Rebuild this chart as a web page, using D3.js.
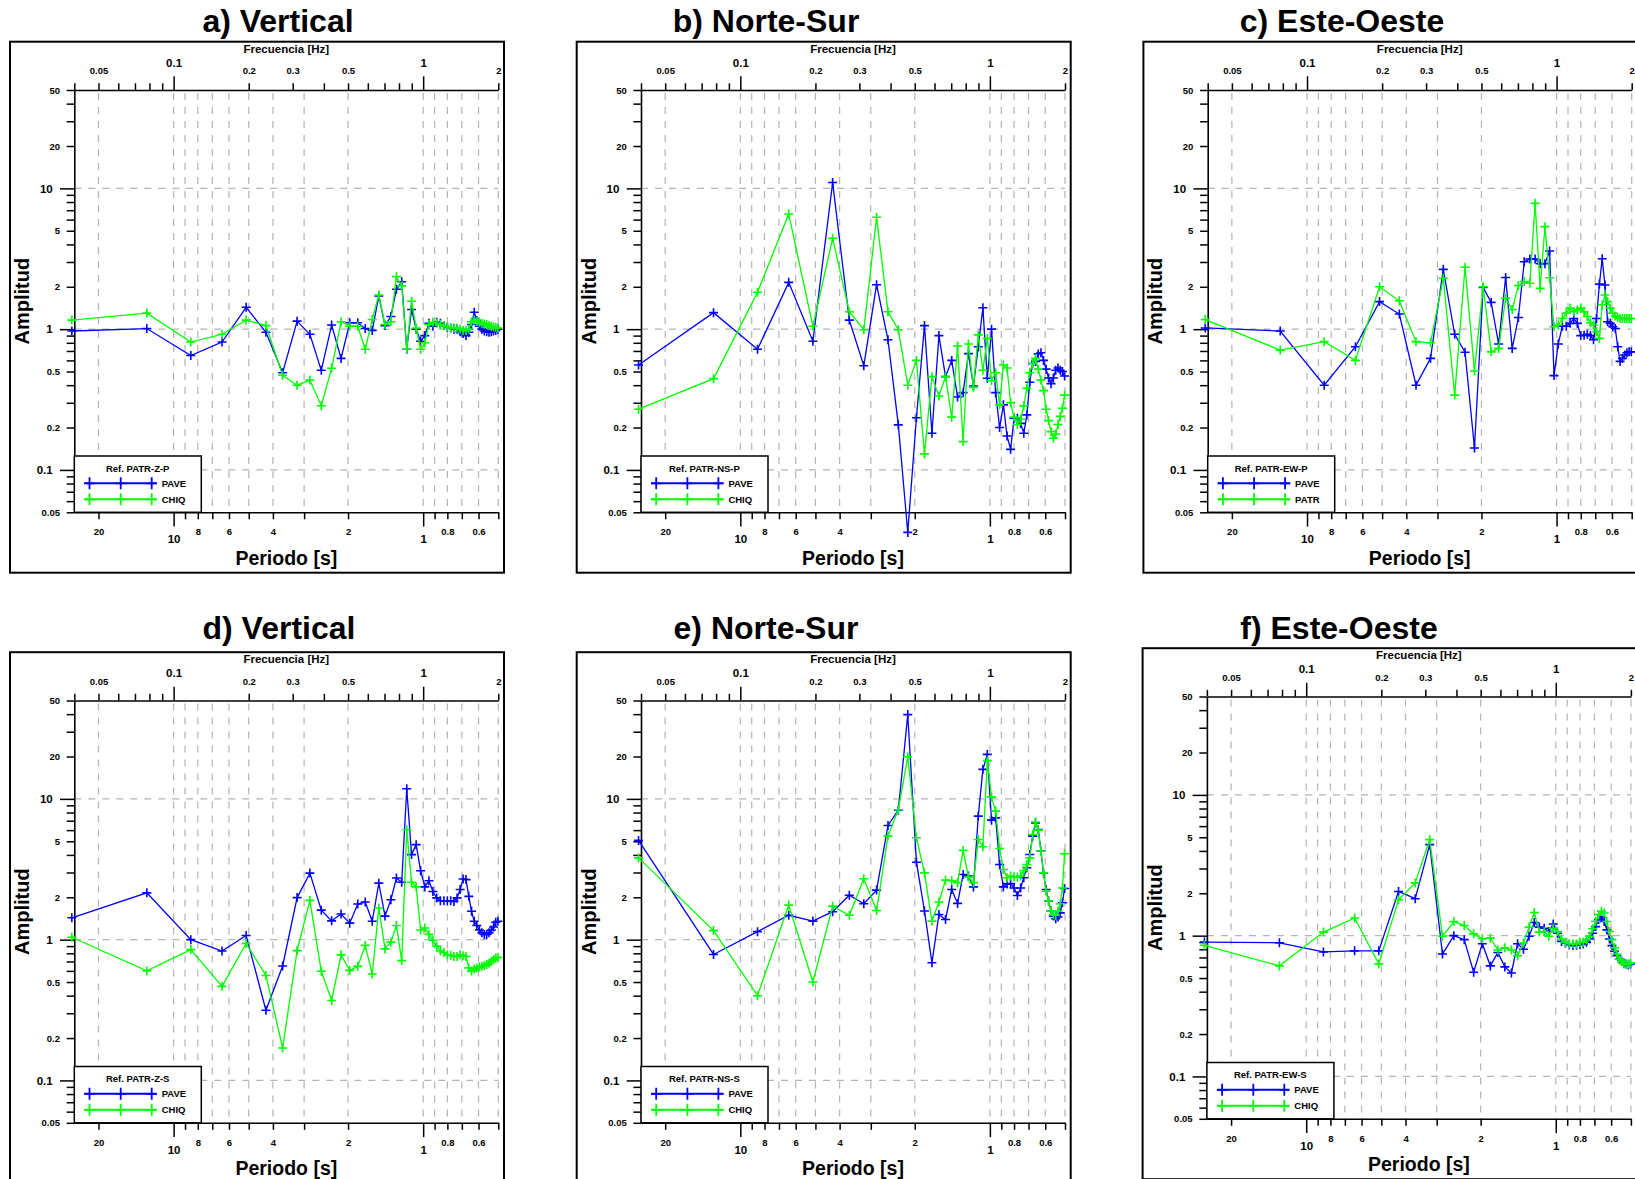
<!DOCTYPE html>
<html><head><meta charset="utf-8">
<script src="https://cdn.jsdelivr.net/npm/d3@7"></script>
<style>
body{margin:0;background:#fff;overflow:hidden}
svg{display:block}
text{font-family:"Liberation Sans",Arial,sans-serif;font-weight:bold;fill:#000}
</style>
</head><body>
<svg id="chart" width="1635" height="1179"></svg>
<script>
// ---------- data ----------
const freqs = [0.0391,0.0781,0.1172,0.1563,0.1953,0.2344,0.2734,0.3125,0.3516,0.3906,
  0.4297,0.4688,0.5078,0.5469,0.5859,0.625,0.6641,0.7031,0.7422,0.7813,
  0.8203,0.8594,0.8984,0.9375,0.9766,1.0156,1.0547,1.0938,1.1328,1.1719,
  1.2109,1.25,1.2891,1.3281,1.3672,1.4063,1.4453,1.4844,1.5234,1.5625,
  1.6016,1.6406,1.6797,1.7188,1.7578,1.7969,1.8359,1.875,1.9141,1.9531,1.9922];

const aPAVE = [0.97,1.01,0.65,0.81,1.43,0.95,0.49,1.14,0.92,0.51,1.07,0.62,1.11,1.11,1.01,0.98,1.72,1.06,1.23,1.92,
  2.17,0.72,1.38,1.00,0.82,0.90,1.10,1.05,1.12,1.10,1.06,1.03,1.02,1.00,1.00,0.96,0.93,0.90,0.95,1.08,
  1.32,1.15,1.05,1.00,0.97,0.96,0.95,0.96,0.97,0.98,1.00];
const aCHIQ = [1.16,1.30,0.81,0.92,1.16,1.06,0.47,0.40,0.435,0.286,0.527,1.13,1.05,1.05,0.72,1.17,1.75,1.08,1.13,2.36,
  2.03,0.72,1.58,1.02,0.72,0.80,1.08,1.12,1.10,1.08,1.06,1.04,1.02,1.02,1.02,1.00,0.98,0.98,1.00,1.13,
  1.16,1.14,1.12,1.10,1.09,1.08,1.06,1.05,1.04,1.03,1.02];
const bPAVE = [0.557,1.31,0.72,2.15,0.82,11.0,1.16,0.55,2.07,0.84,0.209,0.036,0.235,1.06,0.182,0.90,0.46,0.60,0.33,0.354,
  0.67,0.395,0.75,1.42,0.448,1.0,0.354,0.20,0.29,0.174,0.14,0.233,0.233,0.214,0.182,0.246,0.42,0.57,0.59,0.667,
  0.68,0.60,0.52,0.45,0.41,0.45,0.51,0.53,0.51,0.50,0.465];
const bCHIQ = [0.27,0.445,1.83,6.58,1.05,4.42,1.33,0.99,6.23,1.33,0.99,0.40,0.60,0.13,0.46,0.335,0.46,0.237,0.76,0.159,
  0.785,0.386,0.91,0.51,0.86,0.43,0.49,0.29,0.557,0.53,0.30,0.237,0.21,0.23,0.285,0.38,0.49,0.57,0.62,0.52,
  0.436,0.366,0.27,0.224,0.187,0.168,0.18,0.21,0.24,0.274,0.34];
const cPAVE = [1.02,0.97,0.40,0.75,1.57,1.28,0.40,0.62,2.66,0.92,0.685,0.143,1.98,1.55,0.785,2.33,0.73,1.21,3.01,3.15,
  3.15,2.92,2.92,3.59,0.468,0.785,1.05,1.05,1.10,1.19,1.10,0.90,0.905,0.92,0.90,0.84,1.19,2.09,3.16,2.06,
  1.13,1.10,1.04,1.01,0.75,0.59,0.62,0.655,0.68,0.69,0.69];
const cPATR = [1.17,0.71,0.815,0.60,2.0,1.59,0.815,0.80,2.30,0.34,2.75,0.505,2.0,0.69,0.73,1.66,1.38,2.04,2.18,2.12,
  7.83,1.95,5.35,2.32,1.04,1.07,1.19,1.30,1.41,1.33,1.37,1.41,1.33,1.23,1.11,1.07,0.96,0.86,1.49,1.75,
  1.57,1.41,1.30,1.24,1.21,1.19,1.19,1.19,1.19,1.19,1.19];
const dPAVE = [1.43,2.15,1.0,0.83,1.07,0.315,0.65,1.99,2.97,1.62,1.36,1.52,1.31,1.79,1.85,1.35,2.52,1.47,1.92,2.74,
  2.56,11.8,4.02,4.73,3.09,2.37,2.62,2.20,1.98,1.89,1.89,1.89,1.89,1.87,1.98,2.27,2.70,2.67,2.03,1.59,
  1.35,1.26,1.17,1.12,1.09,1.09,1.12,1.17,1.23,1.33,1.35];
const dCHIQ = [1.04,0.60,0.85,0.466,0.94,0.557,0.17,0.836,1.90,0.596,0.37,0.78,0.605,0.646,0.91,0.57,1.68,0.86,0.96,1.26,
  0.71,6.04,2.56,2.37,1.17,1.21,1.09,0.99,0.90,0.83,0.81,0.78,0.775,0.76,0.76,0.78,0.77,0.76,0.63,0.60,
  0.62,0.63,0.64,0.646,0.654,0.665,0.68,0.70,0.72,0.74,0.75];
const ePAVE = [5.07,0.785,1.14,1.49,1.355,1.58,2.07,1.80,2.25,6.47,8.32,39.7,3.55,1.60,0.685,1.51,1.39,2.27,1.81,2.90,
  2.83,2.37,7.54,16.2,20.7,7.06,7.33,3.42,2.37,2.49,2.5,2.33,2.06,2.33,2.75,3.24,4.03,5.44,6.76,6.06,
  4.26,2.98,2.27,1.88,1.60,1.47,1.41,1.45,1.55,1.83,2.31];
const eCHIQ = [3.81,1.16,0.40,1.76,0.50,1.73,1.49,2.71,1.61,5.44,8.38,19.9,5.29,2.98,1.355,1.85,2.65,2.62,2.54,4.32,
  2.79,2.54,5.15,4.57,18.7,10.3,8.19,4.44,3.15,2.75,2.83,2.79,2.79,2.83,3.10,3.42,3.81,5.58,6.86,6.0,
  4.26,2.98,2.21,1.88,1.6,1.51,1.49,1.6,1.8,2.33,4.08];
const fPAVE = [0.90,0.89,0.766,0.78,0.78,2.06,1.83,4.43,0.74,1.0,0.937,0.55,0.877,0.61,0.76,0.60,0.543,0.877,0.80,0.99,
  1.24,1.15,1.13,1.07,1.21,1.04,0.91,0.887,0.863,0.85,0.854,0.863,0.872,0.897,0.947,1.04,1.16,1.30,1.36,1.26,
  1.10,0.947,0.85,0.774,0.72,0.68,0.657,0.64,0.63,0.62,0.63];
const fCHIQ = [0.854,0.61,1.06,1.335,0.63,1.80,2.37,4.81,0.99,1.26,1.18,1.03,0.95,0.96,0.79,0.82,0.79,0.72,0.887,1.15,
  1.46,1.06,1.07,0.99,1.13,1.07,0.947,0.897,0.877,0.877,0.872,0.897,0.897,0.937,0.99,1.12,1.26,1.41,1.49,1.45,
  1.26,1.07,0.937,0.82,0.74,0.68,0.657,0.63,0.63,0.63,0.64];

const titles = ["a) Vertical","b) Norte-Sur","c) Este-Oeste","d) Vertical","e) Norte-Sur","f) Este-Oeste"];
const legendTitles = ["Ref. PATR-Z-P","Ref. PATR-NS-P","Ref. PATR-EW-P","Ref. PATR-Z-S","Ref. PATR-NS-S","Ref. PATR-EW-S"];
const seriesNames = [["PAVE","CHIQ"],["PAVE","CHIQ"],["PAVE","PATR"],["PAVE","CHIQ"],["PAVE","CHIQ"],["PAVE","CHIQ"]];
const seriesValues = [[aPAVE,aCHIQ],[bPAVE,bCHIQ],[cPAVE,cPATR],[dPAVE,dCHIQ],[ePAVE,eCHIQ],[fPAVE,fCHIQ]];

const freqDomain = [0.04, 2];
const periodDomain = [25, 0.5];
const ampDomain = [0.05, 50];
const topTicks = [0.04,0.05,0.06,0.07,0.08,0.09,0.2,0.3,0.4,0.5,0.6,0.7,0.8,0.9,2];
const topLabelsMinor = [0.05,0.2,0.3,0.5,2];
const topLabelsMajor = [0.1,1];
const periodTicks = [20,9,8,7,6,5,4,3,2,0.9,0.8,0.7,0.6,0.5];
const periodLabelsMinor = [20,8,6,4,2,0.8,0.6];
const periodLabelsMajor = [10,1];
const gridPeriods = [20,10,9,8,7,6,5,4,3,2,1,0.9,0.8,0.7,0.6,0.5];
const ampTicksMinor = [0.05,0.06,0.07,0.08,0.09,0.2,0.3,0.4,0.5,0.6,0.7,0.8,0.9,2,3,4,5,6,7,8,9,20,30,40,50];
const ampLabelsMinor = [0.05,0.2,0.5,2,5,20,50];
const ampTicksMajor = [0.1,1,10];

// ---------- layout ----------
const layout = [
  {ox:10,    oy:41.7,  tx:278,  ty:32.3},
  {ox:576.7, oy:41.7,  tx:766,  ty:32.3},
  {ox:1143.4,oy:41.7,  tx:1342, ty:32.3},
  {ox:10,    oy:652.2, tx:279,  ty:638.5},
  {ox:576.7, oy:652.2, tx:766,  ty:638.5},
  {ox:1142.6,oy:648.2, tx:1339, ty:638.5}
];
const colors = ["#0000ff","#00ff00"];
const W = 494, H = 531, PL = 64.3, PR = 488.3, PT = 48.3, PB = 470.6;

const svg = d3.select("#chart");

function styleAxis(sel, fs, keepDomain){
  sel.attr("font-family", null).attr("font-size", fs);
  sel.selectAll("line").attr("stroke","#000").attr("stroke-width",1.5);
  sel.selectAll("text").attr("fill","#000");
  if (keepDomain) sel.select(".domain").attr("stroke","#000").attr("stroke-width",1.6);
  else sel.select(".domain").remove();
}

layout.forEach((p, i) => {
  svg.append("text").attr("x", p.tx).attr("y", p.ty)
    .attr("text-anchor","middle").attr("font-size", 32).text(titles[i]);

  const g = svg.append("g").attr("transform", `translate(${p.ox},${p.oy})`);
  const x = d3.scaleLog().domain(freqDomain).range([PL, PR]);
  const xp = d3.scaleLog().domain(periodDomain).range([PL, PR]);
  const y = d3.scaleLog().domain(ampDomain).range([PB, PT]);

  g.append("rect").attr("x",0).attr("y",0).attr("width",W).attr("height",H)
    .attr("fill","#fff").attr("stroke","#000").attr("stroke-width",2);

  // grid
  const grid = g.append("g").attr("stroke","#b4b4b4").attr("stroke-width",1.2).attr("stroke-dasharray","7,7");
  grid.selectAll("line.v").data(gridPeriods).join("line").attr("class","v")
    .attr("x1", d => xp(d)).attr("x2", d => xp(d)).attr("y1", PT + 3).attr("y2", PB);
  grid.selectAll("line.h").data(ampTicksMajor).join("line").attr("class","h")
    .attr("x1", PL).attr("x2", PR).attr("y1", d => y(d)).attr("y2", d => y(d));

  // top frequency axis
  g.append("g").attr("transform", `translate(0,${PT})`)
    .call(d3.axisTop(x).tickValues(topTicks).tickSize(6.7).tickSizeOuter(0).tickPadding(9.3)
      .tickFormat(d => topLabelsMinor.includes(d) ? String(d) : ""))
    .call(s => styleAxis(s, 9.5, true));
  g.append("g").attr("transform", `translate(0,${PT})`)
    .call(d3.axisTop(x).tickValues(topLabelsMajor).tickSize(13.7).tickSizeOuter(0).tickPadding(9.6).tickFormat(String))
    .call(s => styleAxis(s, 11.5, false));

  // bottom period axis
  g.append("g").attr("transform", `translate(0,${PB})`)
    .call(d3.axisBottom(xp).tickValues(periodTicks).tickSize(7).tickSizeOuter(0).tickPadding(9)
      .tickFormat(d => periodLabelsMinor.includes(d) ? String(d) : ""))
    .call(s => styleAxis(s, 9.5, true));
  g.append("g").attr("transform", `translate(0,${PB})`)
    .call(d3.axisBottom(xp).tickValues(periodLabelsMajor).tickSize(14.3).tickSizeOuter(0).tickPadding(8.5).tickFormat(String))
    .call(s => styleAxis(s, 11.5, false));

  // left amplitude axis
  g.append("g").attr("transform", `translate(${PL},0)`)
    .call(d3.axisLeft(y).tickValues(ampTicksMinor).tickSize(7.6).tickSizeOuter(0).tickPadding(6.7)
      .tickFormat(d => ampLabelsMinor.includes(d) ? String(d) : ""))
    .call(s => styleAxis(s, 9.5, true));
  g.append("g").attr("transform", `translate(${PL},0)`)
    .call(d3.axisLeft(y).tickValues(ampTicksMajor).tickSize(14.3).tickSizeOuter(0).tickPadding(7.3).tickFormat(String))
    .call(s => styleAxis(s, 11.5, false));

  // axis titles
  g.append("text").attr("x", (PL+PR)/2).attr("y", PT - 37).attr("text-anchor","middle")
    .attr("font-size", 11.5).text("Frecuencia [Hz]");
  g.append("text").attr("x", (PL+PR)/2).attr("y", PB + 52.7).attr("text-anchor","middle")
    .attr("font-size", 19.5).text("Periodo [s]");
  g.append("text").attr("transform", `translate(19,${(PT+PB)/2}) rotate(-90)`)
    .attr("text-anchor","middle").attr("font-size", 20).text("Amplitud");

  // data series
  const line = d3.line().x(d => x(d.f)).y(d => y(d.v));
  seriesValues[i].forEach((vals, s) => {
    const pts = vals.map((v, k) => ({f: freqs[k], v}));
    const sg = g.append("g");
    sg.append("path").datum(pts).attr("d", line).attr("fill","none")
      .attr("stroke", colors[s]).attr("stroke-width", 1.3);
    sg.selectAll("path.m").data(pts).join("path").attr("class","m")
      .attr("transform", d => `translate(${x(d.f)},${y(d.v)})`)
      .attr("d","M-4.5,0H4.5M0,-4.5V4.5")
      .attr("stroke", colors[s]).attr("stroke-width", 1.6).attr("fill","none");
  });

  // legend
  const lg = g.append("g").attr("transform", `translate(${PL},${PB - 56.3})`);
  lg.append("rect").attr("width",127).attr("height",56.3).attr("fill","#fff")
    .attr("stroke","#000").attr("stroke-width",1.5);
  lg.append("text").attr("x",63.4).attr("y",15.7).attr("text-anchor","middle")
    .attr("font-size",9.5).text(legendTitles[i]);
  seriesNames[i].forEach((name, s) => {
    const ly = 27.3 + s * 16;
    lg.append("line").attr("x1",10).attr("x2",82.4).attr("y1",ly).attr("y2",ly)
      .attr("stroke",colors[s]).attr("stroke-width",2);
    [15.2, 46.4, 77.4].forEach(mx => {
      lg.append("path").attr("transform",`translate(${mx},${ly})`)
        .attr("d","M-5.2,0H5.2M0,-6V6").attr("stroke",colors[s]).attr("stroke-width",1.8);
    });
    lg.append("text").attr("x",87.4).attr("y",ly + 3.4).attr("font-size",9.5).text(name);
  });
});
</script>
</body></html>
